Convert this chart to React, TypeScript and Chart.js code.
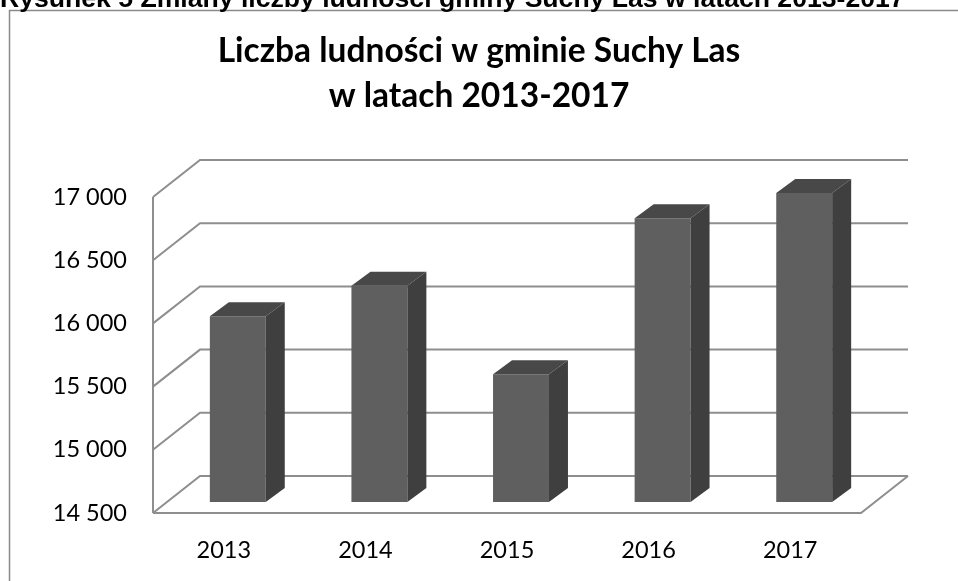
import React, { useEffect, useRef } from "react";
import { Chart, registerables } from "chart.js";

Chart.register(...registerables);

const categories = ["2013", "2014", "2015", "2016", "2017"];
const population = [15970, 16210, 15510, 16745, 16945];
const yMin = 14500;
const yMax = 17000;
const yStep = 500;
const chartTitle = ["Liczba ludności w gminie Suchy Las", "w latach 2013-2017"];
const figureCaption = "Rysunek 5 Zmiany liczby ludności gminy Suchy Las w latach 2013-2017";

// 3D geometry (pixels)
const FRONT_DX = 14; // bar front face offset from floor front edge
const FRONT_DY = 11;
const WALL_DX = 47; // total depth of floor
const WALL_DY = 37;
const BAR_DX = 19; // bar depth
const BAR_DY = 14;

const fmt = (v: number) => String(v).replace(/\B(?=(\d{3})+(?!\d))/g, " ");

const frame3d = {
  id: "frame3d",
  beforeDraw(chart: any) {
    const ctx = chart.ctx;
    ctx.save();
    ctx.strokeStyle = "#8a8a8a";
    ctx.lineWidth = 1.5;
    ctx.strokeRect(9.5, 10.5, 1200, 1000);
    ctx.fillStyle = "#000";
    ctx.font = "bold 26.6px 'Liberation Sans', Arial, sans-serif";
    ctx.textBaseline = "alphabetic";
    ctx.textAlign = "left";
    ctx.fillText(figureCaption, 0, 7);
    ctx.restore();
  },
  beforeDatasetsDraw(chart: any) {
    const ctx = chart.ctx;
    const y = chart.scales.y;
    const area = chart.chartArea;
    const x0 = area.left - FRONT_DX;
    const xBackL = x0 + WALL_DX;
    const xBackR = area.right - FRONT_DX + WALL_DX;
    ctx.save();
    ctx.strokeStyle = "#8e8e8e";
    ctx.lineWidth = 2;
    y.ticks.forEach((t: any) => {
      const fy = y.getPixelForValue(t.value) + FRONT_DY;
      const by = fy - WALL_DY;
      ctx.beginPath();
      ctx.moveTo(x0, fy);
      ctx.lineTo(xBackL, by);
      ctx.lineTo(xBackR, by);
      ctx.stroke();
    });
    const pb = y.getPixelForValue(yMin) + FRONT_DY;
    ctx.beginPath();
    ctx.moveTo(x0, pb);
    ctx.lineTo(area.right - FRONT_DX, pb);
    ctx.lineTo(xBackR, pb - WALL_DY);
    ctx.stroke();
    const pt = y.getPixelForValue(yMax) + FRONT_DY;
    ctx.beginPath();
    ctx.moveTo(x0, pt);
    ctx.lineTo(x0, pb);
    ctx.stroke();
    ctx.restore();
  },
  afterDatasetsDraw(chart: any) {
    const ctx = chart.ctx;
    const meta = chart.getDatasetMeta(0);
    const base = chart.scales.y.getPixelForValue(yMin);
    ctx.save();
    meta.data.forEach((el: any) => {
      const { x, y, width } = el.getProps(["x", "y", "width"], true);
      const l = x - width / 2;
      const r = x + width / 2;
      ctx.fillStyle = "#484848";
      ctx.beginPath();
      ctx.moveTo(l, y);
      ctx.lineTo(l + BAR_DX, y - BAR_DY);
      ctx.lineTo(r + BAR_DX, y - BAR_DY);
      ctx.lineTo(r, y);
      ctx.closePath();
      ctx.fill();
      ctx.fillStyle = "#3f3f3f";
      ctx.beginPath();
      ctx.moveTo(r, y);
      ctx.lineTo(r + BAR_DX, y - BAR_DY);
      ctx.lineTo(r + BAR_DX, base - BAR_DY);
      ctx.lineTo(r, base);
      ctx.closePath();
      ctx.fill();
    });
    ctx.restore();
  },
};

export default function App() {
  const ref = useRef<HTMLCanvasElement | null>(null);
  useEffect(() => {
    if (!ref.current) return;
    const chart = new Chart(ref.current, {
      type: "bar",
      data: {
        labels: categories,
        datasets: [
          {
            data: population,
            base: yMin,
            backgroundColor: "#5f5f5f",
            borderWidth: 0,
            barPercentage: 0.395,
            categoryPercentage: 1,
          },
        ],
      },
      options: {
        responsive: false,
        animation: false,
        devicePixelRatio: 1,
        layout: { padding: 0 },
        plugins: {
          legend: { display: false },
          tooltip: { enabled: false },
          title: {
            display: true,
            text: chartTitle,
            color: "#000",
            font: { family: "Lato", size: 33.5, weight: "bold", lineHeight: 1.343 },
            padding: { top: 29, bottom: 67 },
          },
        },
        scales: {
          x: {
            grid: { display: false, drawTicks: false },
            border: { display: false },
            ticks: {
              color: "#000",
              font: { family: "Lato", size: 23.5 },
              padding: 34,
              labelOffset: -FRONT_DX,
              maxRotation: 0,
            },
            afterFit: (s: any) => {
              s.height = 79;
            },
          },
          y: {
            min: yMin,
            max: yMax,
            grid: { display: false, drawTicks: false },
            border: { display: false },
            ticks: {
              stepSize: yStep,
              color: "#000",
              font: { family: "Lato", size: 23.5 },
              padding: 40,
              labelOffset: FRONT_DY,
              callback: (v: any) => fmt(Number(v)),
            },
            afterFit: (s: any) => {
              s.width = 167;
            },
          },
          yRight: {
            type: "linear",
            position: "right",
            display: true,
            grid: { display: false, drawTicks: false },
            border: { display: false },
            ticks: { display: false },
            afterFit: (s: any) => {
              s.width = 83;
            },
          },
        },
      },
      plugins: [frame3d],
    });
    return () => chart.destroy();
  }, []);
  return (
    <div
      style={{
        position: "fixed",
        left: 0,
        top: 0,
        width: 958,
        height: 581,
        background: "#fff",
        overflow: "hidden",
      }}
    >
      <canvas ref={ref} width={958} height={581} style={{ display: "block" }} />
    </div>
  );
}
